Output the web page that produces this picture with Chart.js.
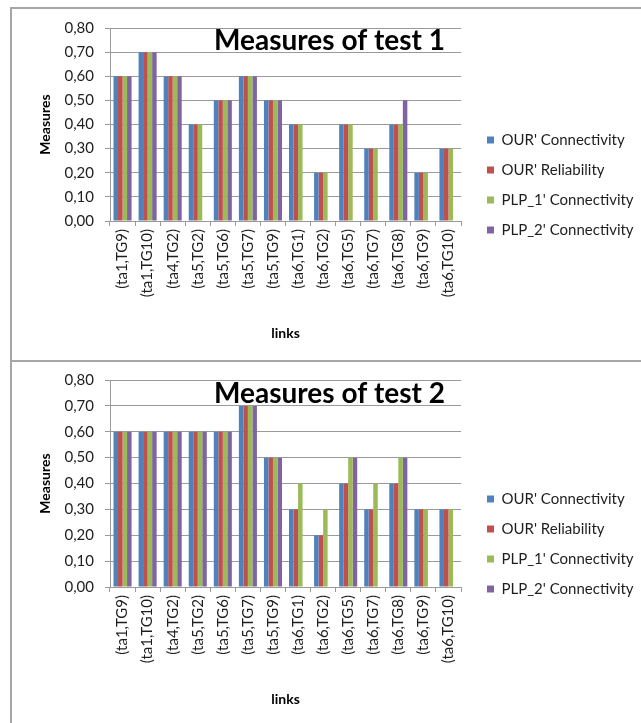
<!DOCTYPE html>
<html><head><meta charset="utf-8">
<script src="https://cdn.jsdelivr.net/npm/chart.js@4.4.0/dist/chart.umd.min.js"></script>
<style>
html,body{margin:0;padding:0;background:#fff;width:641px;height:723px;overflow:hidden;position:relative}
.frame{position:absolute;background:#a6a6a6}
canvas{position:absolute;left:0}
</style></head><body>
<div class="frame" style="left:10px;top:7px;width:2px;height:716px"></div>
<div class="frame" style="left:10px;top:7px;width:631px;height:2px"></div>
<div class="frame" style="left:10px;top:360px;width:631px;height:2px"></div>
<canvas id="c1" width="641" height="334" style="top:8px"></canvas>
<canvas id="c2" width="641" height="348" style="top:360px"></canvas>
<script>
const categories = ['(ta1,TG9)','(ta1,TG10)','(ta4,TG2)','(ta5,TG2)','(ta5,TG6)','(ta5,TG7)','(ta5,TG9)','(ta6,TG1)','(ta6,TG2)','(ta6,TG5)','(ta6,TG7)','(ta6,TG8)','(ta6,TG9)','(ta6,TG10)'];
const seriesNames = ["OUR' Connectivity","OUR' Reliability","PLP_1' Connectivity","PLP_2' Connectivity"];
const yTickLabels = ['0,00','0,10','0,20','0,30','0,40','0,50','0,60','0,70','0,80'];
const chartTitles = ['Measures of test 1','Measures of test 2'];

const test1OurConnectivity  = [0.6,0.7,0.6,0.4,0.5,0.6,0.5,0.4,0.2,0.4,0.3,0.4,0.2,0.3];
const test1OurReliability   = [0.6,0.7,0.6,0.4,0.5,0.6,0.5,0.4,0.2,0.4,0.3,0.4,0.2,0.3];
const test1Plp1Connectivity = [0.6,0.7,0.6,0.4,0.5,0.6,0.5,0.4,0.2,0.4,0.3,0.4,0.2,0.3];
const test1Plp2Connectivity = [0.6,0.7,0.6,null,0.5,0.6,0.5,null,null,null,null,0.5,null,null];

const test2OurConnectivity  = [0.6,0.6,0.6,0.6,0.6,0.7,0.5,0.3,0.2,0.4,0.3,0.4,0.3,0.3];
const test2OurReliability   = [0.6,0.6,0.6,0.6,0.6,0.7,0.5,0.3,0.2,0.4,0.3,0.4,0.3,0.3];
const test2Plp1Connectivity = [0.6,0.6,0.6,0.6,0.6,0.7,0.5,0.4,0.3,0.5,0.4,0.5,0.3,0.3];
const test2Plp2Connectivity = [0.6,0.6,0.6,0.6,0.6,0.7,0.5,null,null,0.5,null,0.5,null,null];

const seriesColors = ['#4F81BD','#C0504D','#9BBB59','#8064A2'];
const gridColor = '#9a9a9a';
const textColor = '#1e1e1e';
const FONT = 'Lato';

const innerTitle = {
  id: 'innerTitle',
  afterDatasetsDraw(chart, args, opts) {
    const {ctx, chartArea, scales} = chart;
    ctx.save();
    ctx.font = 'bold 28px ' + FONT;
    ctx.fillStyle = '#000';
    ctx.textAlign = 'right';
    ctx.textBaseline = 'alphabetic';
    ctx.fillText(opts.text, chartArea.right - 16, scales.y.getPixelForValue(0.75) + 10);
    ctx.restore();
  }
};
const legendPlace = {
  id: 'legendPlace',
  afterLayout(chart) {
    const lg = chart.legend;
    lg.left = 472; lg.right = chart.width; lg.width = lg.right - lg.left;
  }
};

function makeChart(id, title, values) {
  new Chart(document.getElementById(id), {
    type: 'bar',
    data: {
      labels: categories,
      datasets: values.map((v, i) => ({
        label: seriesNames[i], data: v, backgroundColor: seriesColors[i],
        borderWidth: 0, categoryPercentage: 0.72, barPercentage: 1.0
      }))
    },
    options: {
      responsive: false, animation: false, devicePixelRatio: 1,
      layout: {padding: {top: 20, left: 0, right: 0, bottom: 0}},
      plugins: {
        tooltip: {enabled: false},
        title: {display: false},
        innerTitle: {text: title},
        legend: {
          position: 'right', align: 'center',
          labels: {boxWidth: 7, boxHeight: 7, padding: 15, color: textColor, font: {family: FONT, size: 15}}
        }
      },
      scales: {
        x: {
          grid: {display: true, drawOnChartArea: false, drawTicks: true, tickLength: 5, color: gridColor, offset: true},
          border: {display: true, color: gridColor},
          ticks: {autoSkip: false, minRotation: 90, maxRotation: 90, padding: 3, color: textColor, font: {family: FONT, size: 15}},
          title: {display: true, text: 'links', color: '#000', font: {family: FONT, size: 14, weight: 'bold'}, padding: {top: 0, bottom: 0}},
          afterFit: s => { s.height = 121; }
        },
        y: {
          display: 'auto',
          min: 0, max: 0.8,
          grid: {color: gridColor, tickLength: 5, drawTicks: true},
          border: {display: true, color: gridColor},
          ticks: {stepSize: 0.1, padding: 11, color: textColor, font: {family: FONT, size: 15},
            callback: (v, i) => yTickLabels[i]},
          title: {display: true, text: 'Measures', color: '#000', font: {family: FONT, size: 14, weight: 'bold'}, padding: {top: 37, bottom: 0}},
          afterFit: s => { s.width = 110; }
        },
        gap: {
          type: 'linear', position: 'right', display: 'auto',
          grid: {display: false}, border: {display: false}, ticks: {display: false},
          afterFit: s => { s.width = Math.max(0, s.chart.width - 461 - s.chart.legend.width); }
        }
      }
    },
    plugins: [innerTitle, legendPlace]
  });
}

makeChart('c1', chartTitles[0], [test1OurConnectivity, test1OurReliability, test1Plp1Connectivity, test1Plp2Connectivity]);
makeChart('c2', chartTitles[1], [test2OurConnectivity, test2OurReliability, test2Plp1Connectivity, test2Plp2Connectivity]);
</script>
</body></html>
